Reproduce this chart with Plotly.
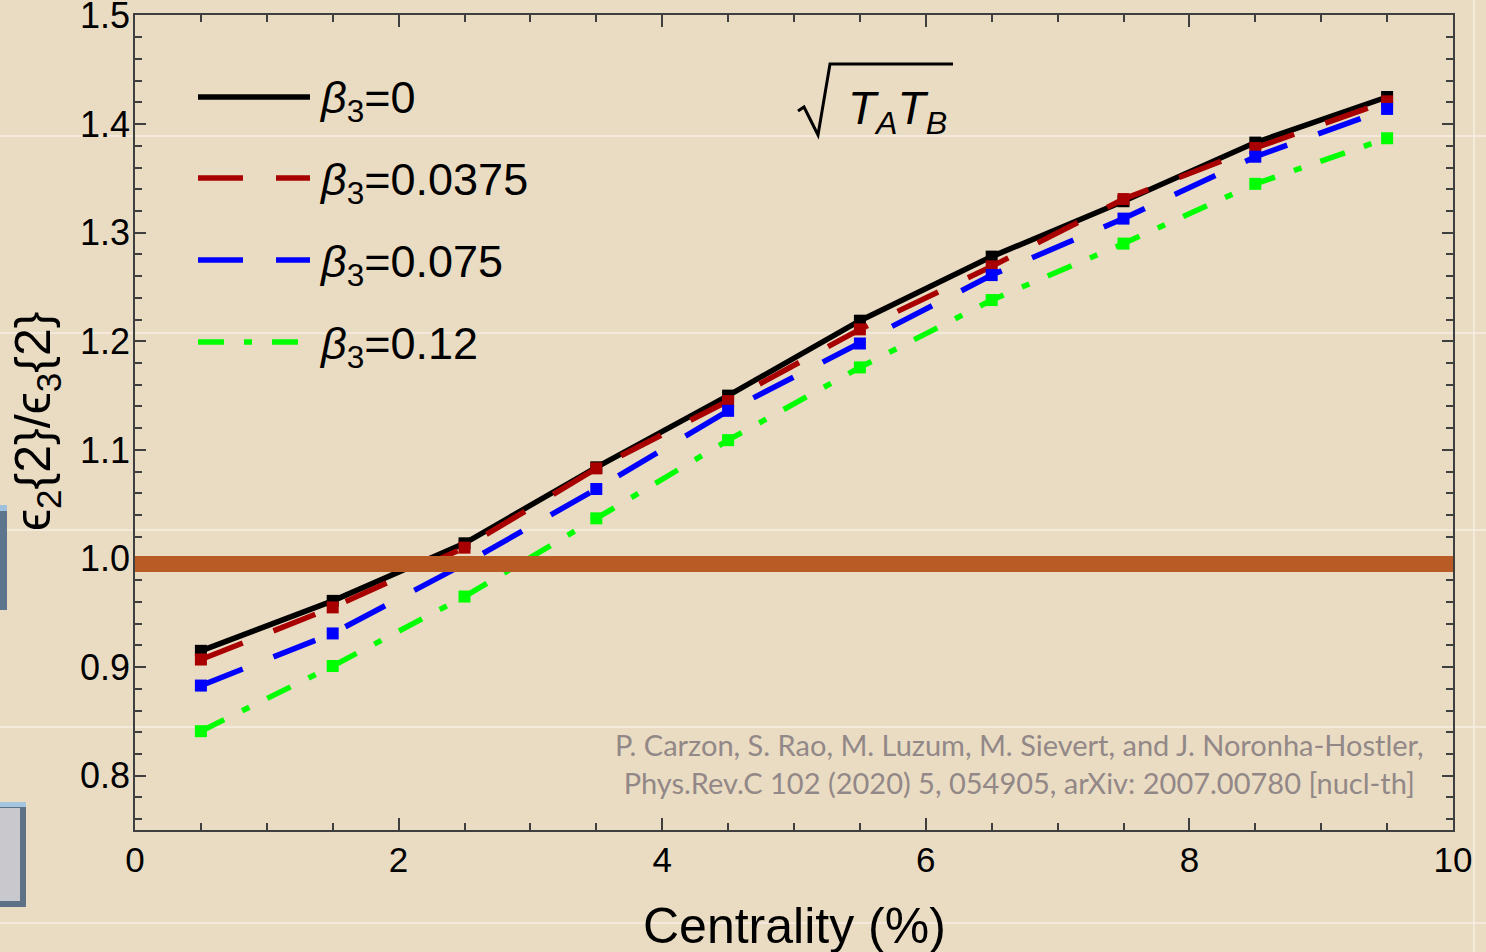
import plotly.graph_objects as go

# Centrality bins (%) and eccentricity ratio eps2{2}/eps3{2} for each beta_3
centrality = [0.5, 1.5, 2.5, 3.5, 4.5, 5.5, 6.5, 7.5, 8.5, 9.5]
ratio_b0 = [0.915, 0.961, 1.014, 1.084, 1.150, 1.219, 1.278, 1.329, 1.383, 1.425]
ratio_b00375 = [0.907, 0.955, 1.010, 1.083, 1.145, 1.211, 1.269, 1.331, 1.378, 1.421]
ratio_b0075 = [0.883, 0.931, 0.995, 1.064, 1.136, 1.198, 1.261, 1.313, 1.370, 1.414]
ratio_b012 = [0.841, 0.901, 0.965, 1.037, 1.109, 1.176, 1.238, 1.290, 1.345, 1.387]

series_labels = ["0", "0.0375", "0.075", "0.12"]
series_values = [ratio_b0, ratio_b00375, ratio_b0075, ratio_b012]

x_ticks = [0, 2, 4, 6, 8, 10]
y_ticks = [0.8, 0.9, 1.0, 1.1, 1.2, 1.3, 1.4, 1.5]
reference_level = 0.995

colors = ["#000000", "#A80000", "#0000FF", "#00FF00"]
dashes = ["solid", "45px,33px", "45px,33px", "26px,20px,8px,20px"]

BG = "#EADCC2"
AXIS = "#3F3F3F"
FONT = "Liberation Sans, Arial, sans-serif"

W, H = 1486, 952
L, R, T, B = 135, 1453, 15, 830


def px(x):
    return (x - L) / (R - L)


def py(y):
    return (B - y) / (B - T)


fig = go.Figure()

for lab, vals, col, dash in zip(series_labels, series_values, colors, dashes):
    fig.add_trace(go.Scatter(
        x=centrality, y=vals, mode="lines+markers",
        name="β3=" + lab,
        line=dict(color=col, width=5.5, dash=dash),
        marker=dict(symbol="square", size=12, color=col, line=dict(width=0)),
        showlegend=False,
    ))

shapes = []

# faint slide guide lines
for gy in [136, 333, 530, 727, 923]:
    shapes.append(dict(type="line", xref="paper", yref="paper",
                       x0=px(0), x1=px(W), y0=py(gy), y1=py(gy),
                       line=dict(color="#F6EFE3", width=1.5), layer="below"))
shapes.append(dict(type="line", xref="paper", yref="paper",
                   x0=px(1474), x1=px(1474), y0=py(0), y1=py(H),
                   line=dict(color="#F6EFE3", width=1.5), layer="below"))

# reference band at unity
shapes.append(dict(type="line", xref="paper", yref="y",
                   x0=0, x1=1, y0=reference_level, y1=reference_level,
                   line=dict(color="#B85B24", width=16), layer="above"))

# side buttons of the slide
shapes.append(dict(type="rect", xref="paper", yref="paper",
                   x0=px(0), x1=px(7), y0=py(610), y1=py(505),
                   fillcolor="#5E768D", line=dict(width=0)))
shapes.append(dict(type="rect", xref="paper", yref="paper",
                   x0=px(0), x1=px(7), y0=py(511), y1=py(505),
                   fillcolor="#9EC0DC", line=dict(width=0)))
shapes.append(dict(type="rect", xref="paper", yref="paper",
                   x0=px(0), x1=px(26), y0=py(907), y1=py(802),
                   fillcolor="#5D7286", line=dict(width=0)))
shapes.append(dict(type="rect", xref="paper", yref="paper",
                   x0=px(0), x1=px(20), y0=py(901), y1=py(808),
                   fillcolor="#C9C8CC", line=dict(width=0)))
shapes.append(dict(type="rect", xref="paper", yref="paper",
                   x0=px(0), x1=px(26), y0=py(807), y1=py(802),
                   fillcolor="#A6C6E0", line=dict(width=0)))

# radical sign over T_A T_B
rad = [(798, 111), (804, 107), (818, 135), (830, 64), (953, 64)]
path = "M " + " L ".join(f"{px(a)},{py(b)}" for a, b in rad)
shapes.append(dict(type="path", xref="paper", yref="paper", path=path,
                   line=dict(color="#000000", width=3)))

# legend sample lines
legend_y = [97, 178, 260, 342]
for col, dash, ly in zip(colors, dashes, legend_y):
    shapes.append(dict(type="line", xref="paper", yref="paper",
                       x0=px(198), x1=px(310), y0=py(ly), y1=py(ly),
                       line=dict(color=col, width=5.5, dash=dash)))

annotations = []
for lab, ly in zip(series_labels, legend_y):
    annotations.append(dict(
        xref="paper", yref="paper", x=px(317), y=py(ly + 4),
        xanchor="left", yanchor="middle", showarrow=False,
        text="<i>β</i><sub>3</sub>=" + lab,
        font=dict(family=FONT, size=45, color="#000000")))

annotations.append(dict(
    xref="paper", yref="paper", x=px(846), y=py(112),
    xanchor="left", yanchor="middle", showarrow=False,
    text="<i>T</i><sub><i>A</i></sub><i>T</i><sub><i>B</i></sub>",
    font=dict(family=FONT, size=46, color="#000000")))

annotations.append(dict(
    xref="paper", yref="paper", x=px(1019), y=py(763),
    xanchor="center", yanchor="middle", showarrow=False, align="center",
    text="P. Carzon, S. Rao, M. Luzum, M. Sievert, and J. Noronha-Hostler,<br>"
         "Phys.Rev.C 102 (2020) 5, 054905, arXiv: 2007.00780 [nucl-th]",
    font=dict(family="Liberation Sans Narrow, Lato, sans-serif", size=29,
              color="#928888")))

# axis titles
annotations.append(dict(
    xref="paper", yref="paper", x=px(794), y=py(926),
    xanchor="center", yanchor="middle", showarrow=False,
    text="Centrality (%)",
    font=dict(family=FONT, size=50, color="#000000")))
annotations.append(dict(
    xref="paper", yref="paper", x=px(36), y=py(422),
    xanchor="center", yanchor="middle", showarrow=False, textangle=-90,
    text="ϵ<sub>2</sub>{2}/ϵ<sub>3</sub>{2}",
    font=dict(family=FONT, size=50, color="#000000")))

axis_common = dict(
    showgrid=False, zeroline=False, showline=True, linecolor=AXIS,
    linewidth=1.5, mirror="allticks", ticks="inside", tickcolor=AXIS,
    tickwidth=1.5, ticklabeloverflow="allow", automargin=False,
)

fig.update_layout(
    width=W, height=H,
    margin=dict(l=L, r=W - R, t=T, b=H - B, pad=0, autoexpand=False),
    paper_bgcolor=BG, plot_bgcolor="rgba(0,0,0,0)",
    showlegend=False,
    xaxis=dict(range=[0, 10], tickvals=x_ticks, ticklen=12,
               ticktext=[str(v) for v in x_ticks],
               tickfont=dict(family=FONT, size=35, color="#000000"),
               ticklabelstandoff=-2,
               minor=dict(dtick=0.5, tick0=0, ticklen=7, ticks="inside",
                          tickcolor=AXIS, tickwidth=1.5),
               **axis_common),
    yaxis=dict(range=[0.75, 1.5005], tickvals=y_ticks, ticklen=11,
               ticktext=[f"{v:.1f}" for v in y_ticks],
               tickfont=dict(family=FONT, size=36, color="#000000"),
               ticklabelstandoff=-4,
               minor=dict(dtick=0.02, tick0=0, ticklen=7, ticks="inside",
                          tickcolor=AXIS, tickwidth=1.5),
               **axis_common),
    shapes=shapes,
    annotations=annotations,
)

fig.write_html("out.html")
